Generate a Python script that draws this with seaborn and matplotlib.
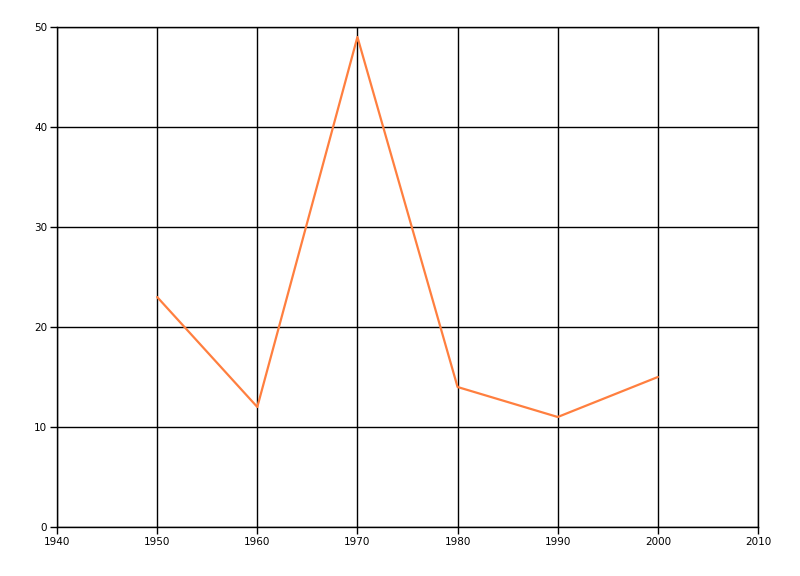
import matplotlib
matplotlib.use("Agg")
import matplotlib.pyplot as plt
import seaborn as sns
import pandas as pd

years = [1950, 1960, 1970, 1980, 1990, 2000]
values = [23, 12, 49, 14, 11, 15]
x_ticks = [1940, 1950, 1960, 1970, 1980, 1990, 2000, 2010]
y_ticks = [0, 10, 20, 30, 40, 50]

sns.set_theme(style="white")
plt.rcParams['font.family'] = ['DejaVu Sans']

df = pd.DataFrame({"year": years, "value": values})

fig = plt.figure(figsize=(8, 5.76), dpi=100)
ax = fig.add_axes([57/800, 1-527/576, (758-57)/800, (527-27)/576])
sns.lineplot(data=df, x="year", y="value", ax=ax, color="#FF7F3F", linewidth=1.6)

ax.set_xlim(1940, 2010)
ax.set_ylim(0, 50)
ax.set_xticks(x_ticks)
ax.set_yticks(y_ticks)
ax.grid(True, color="black", linewidth=1.0)
ax.set_axisbelow(True)
for s in ax.spines.values():
    s.set_color("black")
    s.set_linewidth(1.0)
ax.tick_params(axis="both", direction="out", length=5, width=1, color="black",
               labelsize=7.5, labelcolor="black", pad=2, bottom=True, left=True)
ax.set_xlabel("")
ax.set_ylabel("")
fig.savefig("out.png", dpi=100)
